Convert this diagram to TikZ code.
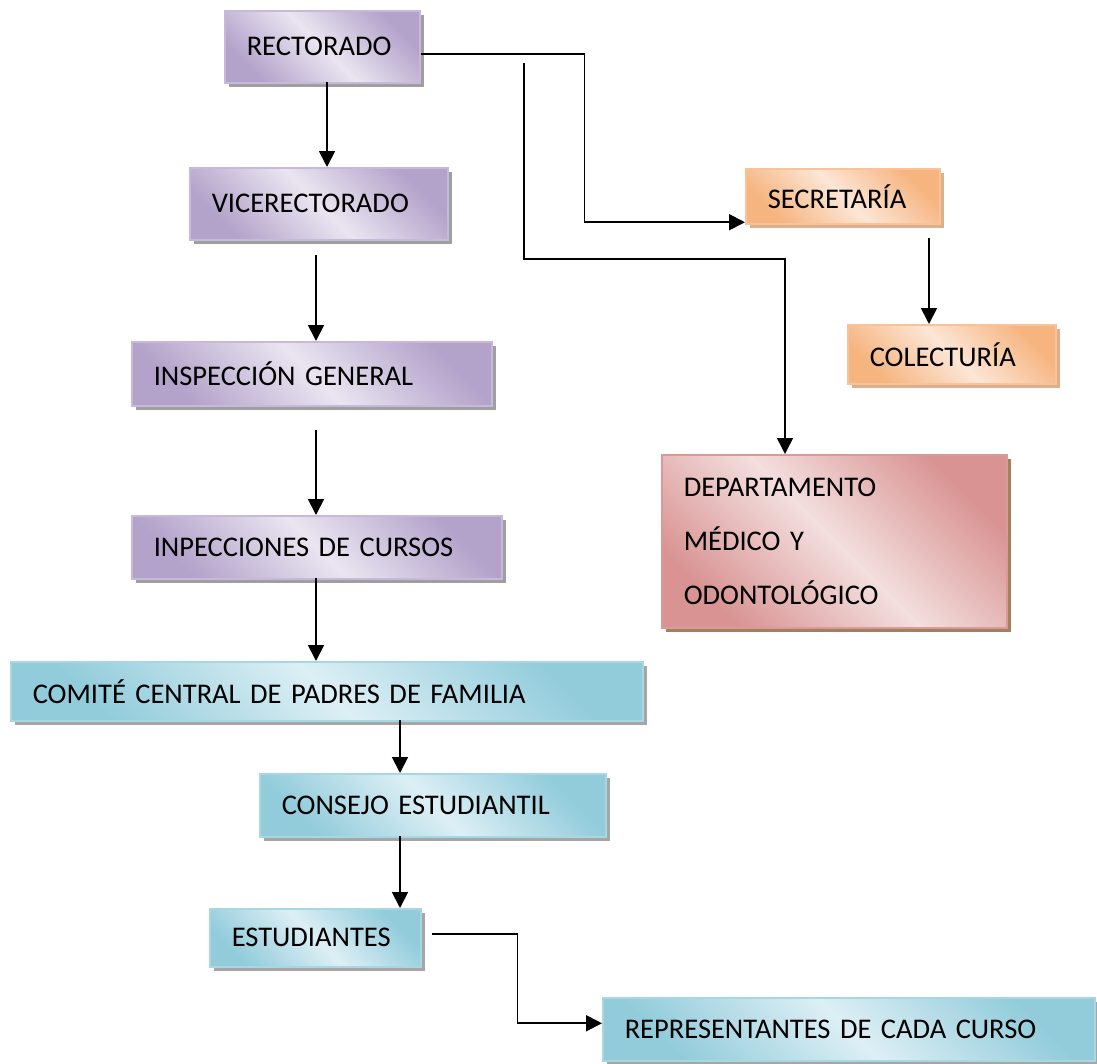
\documentclass[tikz,border=0pt]{standalone}
\usepackage{fontspec}
\setmainfont{Carlito}[WordSpace=0.8]
\usetikzlibrary{calc,shadows,arrows.meta}
\definecolor{pdark}{HTML}{B3A2CA}
\definecolor{plight}{HTML}{EAE5F1}
\definecolor{pline}{HTML}{C6B9D9}
\definecolor{odark}{HTML}{F6B47F}
\definecolor{olight}{HTML}{FCE6D6}
\definecolor{oline}{HTML}{F8C39B}
\definecolor{rdark}{HTML}{D89392}
\definecolor{rlight}{HTML}{F3DFDE}
\definecolor{rline}{HTML}{D99A99}
\definecolor{bdark}{HTML}{92CCDB}
\definecolor{blight}{HTML}{DDEFF5}
\definecolor{bline}{HTML}{A8D7E4}
\tikzset{
  orgbox/.style={anchor=north west, inner xsep=22pt, inner ysep=0pt, align=left,
    line width=1.5pt, font=\fontsize{28.5}{32}\selectfont,
    drop shadow={shadow xshift=4pt, shadow yshift=-4pt, fill=#1, opacity=1}},
  pbox/.style={orgbox=gray!75, draw=pline, top color=pdark, bottom color=pdark, middle color=plight, shading angle=-45},
  obox/.style={orgbox=brown!60, draw=oline, top color=odark, bottom color=odark, middle color=olight, shading angle=-45},
  rbox/.style={orgbox=brown!55!gray, draw=rline, top color=rdark, bottom color=rdark, middle color=rlight, shading angle=-45},
  bbox/.style={orgbox=gray!70, draw=bline, top color=bdark, bottom color=bdark, middle color=blight, shading angle=-45},
  arr/.style={line width=1.8pt, -{Triangle[length=16pt,width=16pt]}},
  thinarr/.style={line width=1.5pt, -{Triangle[length=16pt,width=16pt]}}
}
\begin{document}
\begin{tikzpicture}[x=1pt,y=-1pt]
\useasboundingbox (0,0) rectangle (1097,1063);
\node[pbox, text width=151pt, minimum height=72pt] (rect) at (224,10) {RECTORADO};
\node[pbox, text width=214pt, minimum height=72pt] (vice) at (189,167) {VICERECTORADO};
\node[pbox, text width=316pt, minimum height=64pt] (insp) at (131,341) {INSPECCIÓN GENERAL};
\node[pbox, text width=326pt, minimum height=63pt] (inpc) at (131,515) {INPECCIONES DE CURSOS};
\node[bbox, text width=588pt, minimum height=59pt] (comi) at (10,661) {COMITÉ CENTRAL DE PADRES DE FAMILIA};
\node[bbox, text width=302pt, minimum height=63pt] (cons) at (259,773) {CONSEJO ESTUDIANTIL};
\node[bbox, text width=167pt, minimum height=58pt] (estu) at (209,908) {ESTUDIANTES};
\node[bbox, text width=448pt, minimum height=63pt] (repr) at (602,997) {REPRESENTANTES DE CADA CURSO};
\node[obox, text width=150pt, minimum height=55pt] (secr) at (745,168) {SECRETARÍA};
\node[obox, text width=164pt, minimum height=59pt] (cole) at (847,324) {COLECTURÍA};
\node[rbox, text width=301pt, minimum height=173pt, font=\fontsize{28.5}{54}\selectfont] (depa) at (661,454) {DEPARTAMENTO\\MÉDICO Y\\ODONTOLÓGICO};
\coordinate (dstart) at (524,63);
% vertical chain
\draw[arr] ($(vice.north west)+(138,-85)$) -- ($(vice.north west)+(138,0)$);
\draw[arr] ($(insp.north west)+(185,-86)$) -- ($(insp.north west)+(185,0)$);
\draw[arr] ($(inpc.north west)+(185,-85)$) -- ($(inpc.north west)+(185,0)$);
\draw[arr] ($(comi.north west)+(306,-83)$) -- ($(comi.north west)+(306,0)$);
\draw[arr] ($(cons.north west)+(141,-53)$) -- ($(cons.north west)+(141,0)$);
\draw[arr] ($(estu.north west)+(191,-72)$) -- ($(estu.north west)+(191,0)$);
% right side
\draw[arr] ($(rect.east)+(0,7)$) -- ++(164,0) |- ($(secr.west)+(0,26)$);
\draw[thinarr] (dstart) |- ($(depa.north west)+(124,-195)$) -- ($(depa.north west)+(124,0)$);
\draw[arr] ($(cole.north west)+(82,-86)$) -- ($(cole.north west)+(82,0)$);
\draw[arr] ($(estu.east)+(10,-4)$) -- ++(86,0) |- ($(repr.west)+(0,-6)$);
\end{tikzpicture}
\end{document}
